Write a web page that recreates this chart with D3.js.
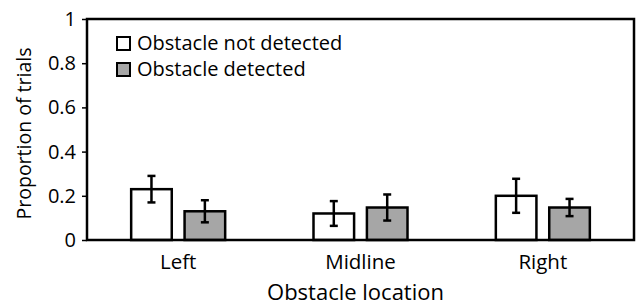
<!DOCTYPE html>
<html>
<head>
<meta charset="utf-8">
<script src="https://cdn.jsdelivr.net/npm/d3@7"></script>
<style>
  body { margin: 0; background: #fff; }
  text { font-family: "Open Sans", sans-serif; fill: #000; }
</style>
</head>
<body>
<svg id="chart" width="637" height="307"></svg>
<script>
// chart data
let locations = ["Left", "Midline", "Right"];
let seriesNames = ["Obstacle not detected", "Obstacle detected"];
let notDetected = [0.23, 0.12, 0.20];
let notDetectedErr = [0.06, 0.056, 0.077];
let detected = [0.13, 0.147, 0.147];
let detectedErr = [0.05, 0.059, 0.039];
let yTicks = [0, 0.2, 0.4, 0.6, 0.8, 1];

let svg = d3.select("#chart"),
    margin = {top: 19, right: 3, bottom: 67, left: 87},
    width = +svg.attr("width") - margin.left - margin.right,
    height = +svg.attr("height") - margin.top - margin.bottom;

let x = d3.scaleBand().domain(locations).range([0, width]);
let x1 = d3.scaleBand().domain([0, 1]).range([x.bandwidth() / 2 - 47, x.bandwidth() / 2 + 47]).paddingInner(0.24);
let y = d3.scaleLinear().domain([0, 1]).range([height, 0]);
let fills = ["#ffffff", "#a6a6a6"];

let g = svg.append("g")
    .attr("transform", "translate(" + margin.left + "," + margin.top + ")");

// y axis ticks
let yAxis = g.append("g")
    .call(d3.axisLeft(y).tickValues(yTicks).tickFormat(d3.format("")).tickSize(5).tickPadding(6));
yAxis.select(".domain").remove();
yAxis.selectAll("line").attr("stroke", "#000").attr("stroke-width", 1.5);
yAxis.selectAll("text").style("font-size", "20px").style("font-family", "'Open Sans', sans-serif");

// x labels
let xAxis = g.append("g")
    .attr("transform", "translate(0," + height + ")")
    .call(d3.axisBottom(x).tickSize(0).tickPadding(14));
xAxis.select(".domain").remove();
xAxis.selectAll("text").style("font-size", "20.5px").style("font-family", "'Open Sans', sans-serif");

// bars
let rows = locations.map(function(loc, i) {
  return [
    {loc: loc, s: 0, v: notDetected[i], e: notDetectedErr[i]},
    {loc: loc, s: 1, v: detected[i], e: detectedErr[i]}
  ];
}).flat();

let bar = g.selectAll(".bar")
  .data(rows)
  .enter().append("g")
    .attr("transform", function(d) { return "translate(" + (x(d.loc) + x1(d.s)) + ",0)"; });

bar.append("rect")
    .attr("x", 0)
    .attr("y", function(d) { return y(d.v); })
    .attr("width", x1.bandwidth())
    .attr("height", function(d) { return height - y(d.v); })
    .attr("fill", function(d) { return fills[d.s]; })
    .attr("stroke", "#000")
    .attr("stroke-width", 2.5);

// error bars
let cx = x1.bandwidth() / 2;
bar.append("line")
    .attr("x1", cx).attr("x2", cx)
    .attr("y1", function(d) { return y(d.v + d.e); })
    .attr("y2", function(d) { return y(d.v - d.e); })
    .attr("stroke", "#000").attr("stroke-width", 2.5);
[1, -1].forEach(function(sign) {
  bar.append("line")
      .attr("x1", cx - 4).attr("x2", cx + 4)
      .attr("y1", function(d) { return y(d.v + sign * d.e); })
      .attr("y2", function(d) { return y(d.v + sign * d.e); })
      .attr("stroke", "#000").attr("stroke-width", 2.5);
});

// frame
g.append("rect")
    .attr("width", width).attr("height", height)
    .attr("fill", "none").attr("stroke", "#000").attr("stroke-width", 2.5);

// legend
let legend = g.selectAll(".legend")
  .data(seriesNames)
  .enter().append("g")
    .attr("transform", function(d, i) { return "translate(30," + (18 + i * 26) + ")"; });
legend.append("rect")
    .attr("width", 13).attr("height", 13)
    .attr("fill", function(d, i) { return fills[i]; })
    .attr("stroke", "#000").attr("stroke-width", 2);
legend.append("text")
    .attr("x", 20).attr("y", 13)
    .style("font-size", "20px")
    .text(function(d) { return d; });

// axis titles
svg.append("text")
    .attr("transform", "translate(31," + (margin.top + height / 2 + 4) + ") rotate(-90)")
    .attr("text-anchor", "middle")
    .style("font-size", "19.5px")
    .text("Proportion of trials");

svg.append("text")
    .attr("x", margin.left + width / 2 - 5)
    .attr("y", 300)
    .attr("text-anchor", "middle")
    .style("font-size", "22px")
    .text("Obstacle location");
</script>
</body>
</html>
